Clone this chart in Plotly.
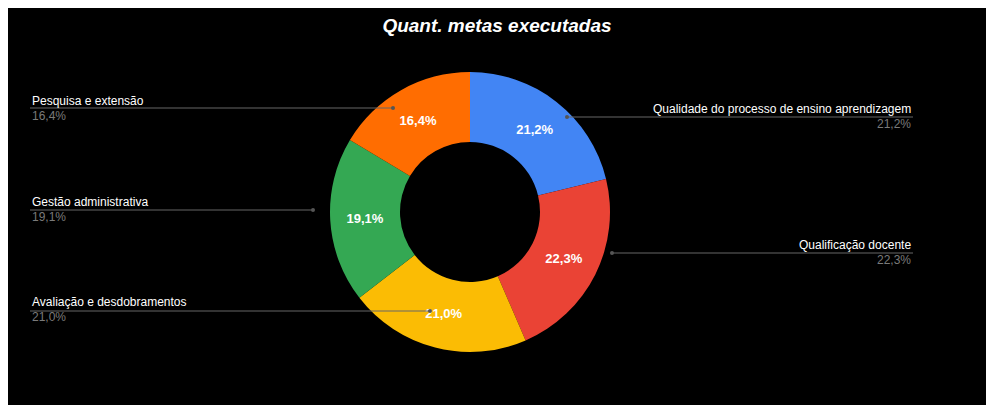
import plotly.graph_objects as go

labels = ["Qualidade do processo de ensino aprendizagem", "Qualificação docente",
          "Avaliação e desdobramentos", "Gestão administrativa", "Pesquisa e extensão"]
values = [21.2, 22.3, 21.0, 19.1, 16.4]
colors = ["#4285f4", "#ea4335", "#fbbc04", "#34a853", "#ff6d01"]
pct_text = ["21,2%", "22,3%", "21,0%", "19,1%", "16,4%"]

W, H = 994, 405
OFF = 8  # page body margin compensation
def px(x): return (x - OFF) / W
def py(y): return 1 - (y - OFF) / H

fig = go.Figure(go.Pie(
    labels=labels, values=values, sort=False, direction="clockwise", rotation=0,
    hole=0.5, marker=dict(colors=colors, line=dict(color="rgba(0,0,0,0)", width=0)),
    text=["<b>" + t + "</b>" for t in pct_text], textinfo="text", textposition="inside",
    insidetextfont=dict(color="white", size=13, family="Arial"),
    domain=dict(x=[px(470-140), px(470+140)], y=[py(212+140), py(212-140)]),
    showlegend=False,
))

items = [
    (4, 30, 101, "left", 108, 30, 393),
    (3, 30, 202, "left", 210, 30, 313),
    (2, 30, 302, "left", 311, 30, 430),
    (0, 913, 109, "right", 117, 567, 913),
    (1, 913, 245, "right", 253, 612, 913),
]
ann = []
shapes = []
for i, x, y, anc, ly, x0, x1 in items:
    ann.append(dict(x=px(x), y=py(y), xref="paper", yref="paper", text=labels[i],
                    showarrow=False, xanchor=anc, yanchor="middle",
                    font=dict(color="white", size=12, family="Arial")))
    ann.append(dict(x=px(x), y=py(y + 15), xref="paper", yref="paper", text=pct_text[i],
                    showarrow=False, xanchor=anc, yanchor="middle",
                    font=dict(color="#7a7a7a", size=12, family="Arial")))
    shapes.append(dict(type="line", xref="paper", yref="paper", x0=px(x0), x1=px(x1),
                       y0=py(ly), y1=py(ly), line=dict(color="#666666", width=1)))
    dx = x1 if anc == "left" else x0
    shapes.append(dict(type="circle", xref="paper", yref="paper", x0=px(dx-2), x1=px(dx+2),
                       y0=py(ly+2), y1=py(ly-2), fillcolor="#555555", line=dict(width=0)))

fig.update_layout(
    width=W, height=H, paper_bgcolor="black", plot_bgcolor="black",
    margin=dict(l=0, r=0, t=0, b=0), separators=",.",
    title=dict(text="<b><i>Quant. metas executadas</i></b>", x=px(497), xanchor="center",
               y=py(25), yanchor="middle", font=dict(color="white", size=19, family="Arial")),
    annotations=ann, shapes=shapes,
)
fig.write_html("out.html")
